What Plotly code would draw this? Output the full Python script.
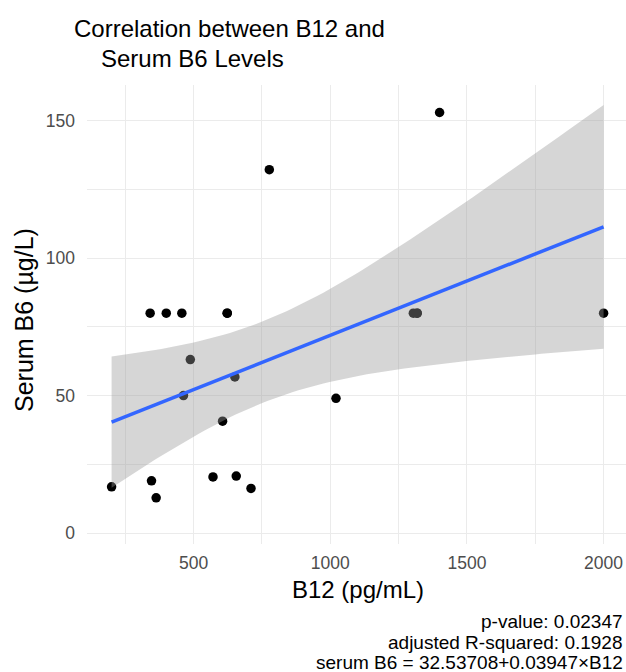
import numpy as np
import plotly.graph_objects as go

b12 = [200, 346, 363, 341, 400, 457, 623, 488, 463, 651, 606, 571, 656, 710, 777, 1021, 1304, 1318, 1400, 2000, 623, 1318]
serum_b6 = [16.8, 19.0, 12.8, 80, 80, 80, 80, 63.1, 50.0, 56.8, 40.7, 20.4, 20.7, 16.2, 132.2, 49.0, 80, 80, 153.0, 80, 80, 80]

x_ticks = [500, 1000, 1500, 2000]
y_ticks = [0, 50, 100, 150]

title_line1 = "Correlation between B12 and"
title_line2 = "Serum B6 Levels"
x_title = "B12 (pg/mL)"
y_title = "Serum B6 (\u00b5g/L)"
caption_lines = ["p-value: 0.02347", "adjusted R-squared: 0.1928", "serum B6 = 32.53708+0.03947\u00d7B12"]

# ---- linear fit with 95% confidence band (like geom_smooth(method='lm')) ----
x = np.array(b12, dtype=float)
y = np.array(serum_b6, dtype=float)
n = len(x)
slope, intercept = np.polyfit(x, y, 1)
resid = y - (intercept + slope * x)
s = np.sqrt(np.sum(resid ** 2) / (n - 2))
xbar = x.mean()
sxx = np.sum((x - xbar) ** 2)
t_crit = 2.085963  # t(0.975, df=20)
xs = np.linspace(x.min(), x.max(), 80)
ys = intercept + slope * xs
se = s * np.sqrt(1.0 / n + (xs - xbar) ** 2 / sxx)
lo = ys - t_crit * se
hi = ys + t_crit * se

W, H = 626, 672
L, R, T, B = 87, 0, 85, 128
PW, PH = W - L - R, H - T - B

def px(xp):
    return (xp - L) / PW

def py(yp):
    return (H - B - yp) / PH

FONT = "Liberation Sans, Arial, Helvetica, sans-serif"

fig = go.Figure()
fig.add_trace(go.Scatter(x=b12, y=serum_b6, mode="markers",
                         marker=dict(color="black", size=9.5, line=dict(width=0)),
                         showlegend=False, hoverinfo="skip"))
fig.add_trace(go.Scatter(x=xs, y=lo, mode="lines", line=dict(width=0),
                         showlegend=False, hoverinfo="skip"))
fig.add_trace(go.Scatter(x=xs, y=hi, mode="lines", line=dict(width=0),
                         fill="tonexty", fillcolor="rgba(153,153,153,0.4)",
                         showlegend=False, hoverinfo="skip"))
fig.add_trace(go.Scatter(x=xs, y=ys, mode="lines", line=dict(color="#3366FF", width=3.5),
                         showlegend=False, hoverinfo="skip"))

axis_common = dict(
    showline=False, zeroline=False, ticks="", showgrid=True,
    gridcolor="#EBEBEB", gridwidth=1.4,
    tickfont=dict(family=FONT, size=17.5, color="#4D4D4D"),
)
fig.update_xaxes(range=[110, 2082], tickvals=x_ticks, ticklabelstandoff=6,
                 minor=dict(showgrid=True, dtick=250, tick0=0, gridcolor="#EBEBEB", gridwidth=0.9),
                 **axis_common)
fig.update_yaxes(range=[-4, 163], tickvals=y_ticks, ticklabelstandoff=11,
                 minor=dict(showgrid=True, dtick=25, tick0=0, gridcolor="#EBEBEB", gridwidth=0.9),
                 **axis_common)

ann = []
ann.append(dict(text=title_line1, x=px(72), y=py(28), xanchor="left", yanchor="middle",
                font=dict(family=FONT, size=24, color="black")))
ann.append(dict(text=title_line2, x=px(99), y=py(58.5), xanchor="left", yanchor="middle",
                font=dict(family=FONT, size=24, color="black")))
ann.append(dict(text=x_title, x=px(358), y=py(589), xanchor="center", yanchor="middle",
                font=dict(family=FONT, size=24, color="black")))
ann.append(dict(text=y_title, x=px(24), y=py(320), xanchor="center", yanchor="middle",
                textangle=-90, font=dict(family=FONT, size=25, color="black")))
for line, yc in zip(caption_lines, [621, 642.5, 662.5]):
    ann.append(dict(text=line, x=px(625), y=py(yc), xanchor="right", yanchor="middle",
                    font=dict(family=FONT, size=19, color="black")))
for a in ann:
    a.update(xref="paper", yref="paper", showarrow=False)

fig.update_layout(
    width=W, height=H,
    margin=dict(l=L, r=R, t=T, b=B, pad=0),
    paper_bgcolor="white", plot_bgcolor="white",
    annotations=ann,
    showlegend=False,
)

fig.write_html("out.html")
